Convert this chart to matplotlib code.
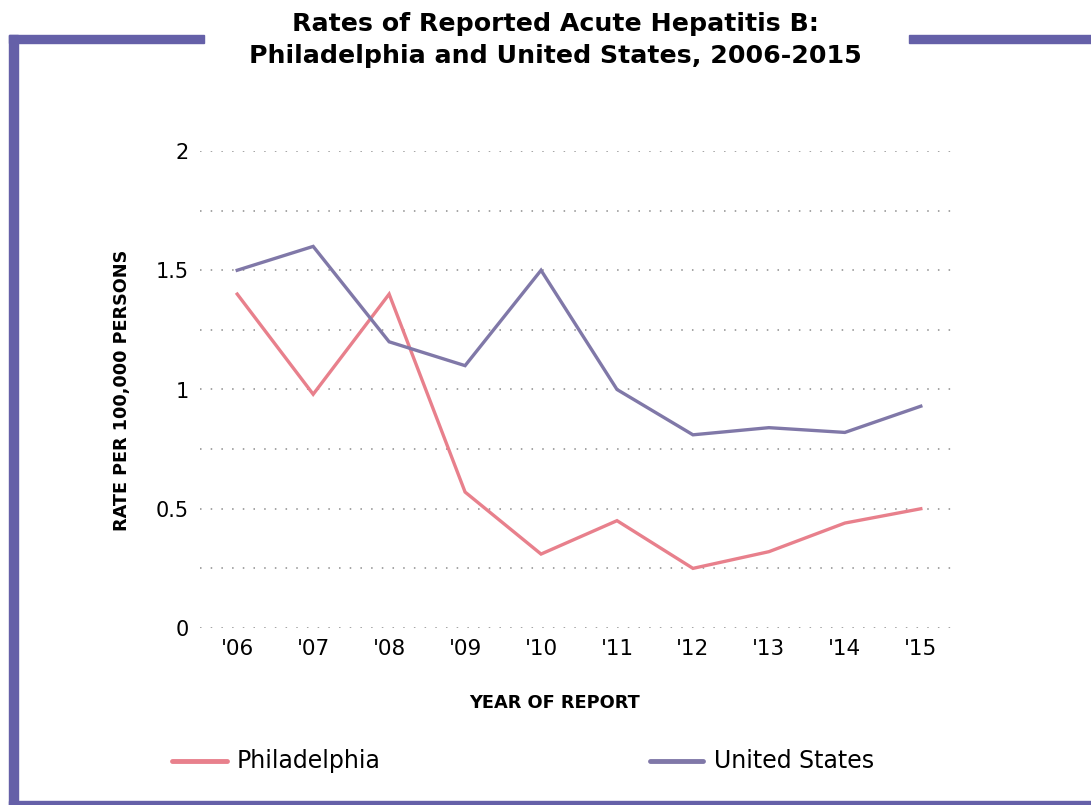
import matplotlib
matplotlib.use("Agg")
import matplotlib.pyplot as plt
from matplotlib.patches import Rectangle

years = ["'06", "'07", "'08", "'09", "'10", "'11", "'12", "'13", "'14", "'15"]
philadelphia = [1.40, 0.98, 1.40, 0.57, 0.31, 0.45, 0.25, 0.32, 0.44, 0.50]
united_states = [1.50, 1.60, 1.20, 1.10, 1.50, 1.00, 0.81, 0.84, 0.82, 0.93]
y_ticks = [0, 0.5, 1, 1.5, 2]
y_tick_labels = ["0", "0.5", "1", "1.5", "2"]
grid_levels = [0, 0.25, 0.5, 0.75, 1, 1.25, 1.5, 1.75, 2]

PHL_COLOR = "#e8808c"
US_COLOR = "#8078a8"
FRAME_COLOR = "#6560a8"

plt.rcParams["font.family"] = ["DejaVu Sans"]

W, H = 1091, 805
fig = plt.figure(figsize=(W / 100, H / 100), dpi=100)

# frame bars drawn in pixel-ish figure coordinates
def px_rect(x0, y0, x1, y1):
	fig.patches.append(Rectangle((x0 / W, 1 - y1 / H), (x1 - x0) / W, (y1 - y0) / H,
		transform=fig.transFigure, color=FRAME_COLOR, zorder=0))

px_rect(9, 35, 18, 805)
px_rect(9, 35, 204, 43)
px_rect(909, 35, 1091, 43)
px_rect(9, 801, 1091, 805)

ax = fig.add_axes([200 / W, 1 - 628 / H, 755 / W, 477 / H])
x = list(range(len(years)))

for lvl in grid_levels:
	ax.axhline(lvl, color="#8c8c8c", lw=1.1, ls=(0, (1, 6)), zorder=1)

ax.plot(x, philadelphia, color=PHL_COLOR, lw=2.4, solid_joinstyle="miter", zorder=3)
ax.plot(x, united_states, color=US_COLOR, lw=2.4, solid_joinstyle="miter", zorder=3)

ax.set_xlim(-0.49, 9.45)
ax.set_ylim(0, 2)
ax.set_xticks(x)
ax.set_xticklabels(years, fontsize=15.5)
ax.set_yticks(y_ticks)
ax.set_yticklabels(y_tick_labels, fontsize=15)
ax.tick_params(length=0)
ax.tick_params(axis="y", pad=8)
ax.tick_params(axis="x", pad=8)
for s in ax.spines.values():
	s.set_visible(False)

fig.text(122 / W, 1 - 390 / H, "RATE PER 100,000 PERSONS", rotation=90,
	ha="center", va="center", fontsize=12.7, fontweight="bold")
fig.text(555 / W, 1 - 703 / H, "YEAR OF REPORT", ha="center", va="center",
	fontsize=12.8, fontweight="bold")
fig.text(555 / W, 1 - 40 / H, "Rates of Reported Acute Hepatitis B:\nPhiladelphia and United States, 2006-2015",
	ha="center", va="center", fontsize=18.2, fontweight="bold", linespacing=1.4)

# legend
lx = [172 / W, 227 / W]
ly = 1 - 761 / H
fig.add_artist(plt.Line2D(lx, [ly, ly], color=PHL_COLOR, lw=3.5, solid_capstyle="round"))
fig.text(237 / W, ly, "Philadelphia", ha="left", va="center", fontsize=17)
fig.add_artist(plt.Line2D([650 / W, 703 / W], [ly, ly], color=US_COLOR, lw=3.5, solid_capstyle="round"))
fig.text(714 / W, ly, "United States", ha="left", va="center", fontsize=17)

fig.savefig("out.png", dpi=100)
